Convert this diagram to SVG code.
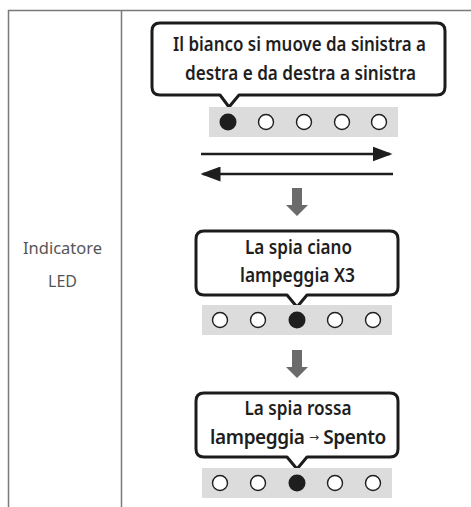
<svg xmlns="http://www.w3.org/2000/svg" width="471" height="507" viewBox="0 0 471 507">
<style>
.grid{stroke:#7a7a7a;stroke-width:1.5;fill:none}
.bub{fill:#fff;stroke:#1c1c1c;stroke-width:3;stroke-linejoin:round}
.bt{font-family:"Noto Sans","Liberation Sans",sans-serif;font-size:19px;font-weight:600;fill:#1e1e1e;text-anchor:middle}
.lbl{font-family:"Noto Sans","Liberation Sans",sans-serif;font-size:16px;font-weight:400;fill:#555555;text-anchor:middle}
.strip{fill:#dcdcdc}
.off{fill:#fff;stroke:#1e1e1e;stroke-width:1.4}
.on{fill:#1e1e1e}
.harr{stroke:#1e1e1e;stroke-width:2.5;fill:none}
.darr{fill:#6b6b6b}
</style>
<defs>
<marker id="ah" markerWidth="8" markerHeight="6" refX="7" refY="3" orient="auto" markerUnits="strokeWidth">
<path d="M0,0 L8,3 L0,6 Z" fill="#1e1e1e"/>
</marker>
</defs>
<g id="table">
<line class="grid" x1="8" y1="10.5" x2="471" y2="10.5"/>
<line class="grid" x1="8.5" y1="10" x2="8.5" y2="507"/>
<line class="grid" x1="121.5" y1="10" x2="121.5" y2="507"/>
</g>
<g id="label">
<text class="lbl" x="62.5" y="254" textLength="79" lengthAdjust="spacingAndGlyphs">Indicatore</text>
<text class="lbl" x="62.5" y="287">LED</text>
</g>
<g id="bubble1">
<path class="bub" d="M160,23 H437 Q445,23 445,31 V87 Q445,95 437,95 H239 L229,107 L220,95 H160 Q152,95 152,87 V31 Q152,23 160,23 Z"/>
<text class="bt" x="299.5" y="51" textLength="253" lengthAdjust="spacingAndGlyphs">Il bianco si muove da sinistra a</text>
<text class="bt" x="300.5" y="80" textLength="231" lengthAdjust="spacingAndGlyphs">destra e da destra a sinistra</text>
</g>
<g id="leds1">
<rect class="strip" x="209" y="107" width="189" height="30"/>
<circle class="on" cx="228" cy="122" r="8.5"/>
<circle class="off" cx="266" cy="122" r="7.5"/>
<circle class="off" cx="304" cy="122" r="7.5"/>
<circle class="off" cx="342" cy="122" r="7.5"/>
<circle class="off" cx="379" cy="122" r="7.5"/>
</g>
<g id="bubble2">
<path class="bub" d="M204,231 H390 Q398,231 398,239 V287 Q398,295 390,295 H307 L297,307 L287,295 H204 Q196,295 196,287 V239 Q196,231 204,231 Z"/>
<text class="bt" x="298.5" y="254" textLength="107" lengthAdjust="spacingAndGlyphs">La spia ciano</text>
<text class="bt" x="297.5" y="282" textLength="115" lengthAdjust="spacingAndGlyphs">lampeggia X3</text>
</g>
<g id="leds2">
<rect class="strip" x="202" y="305" width="190" height="30"/>
<circle class="off" cx="220" cy="320" r="7.5"/>
<circle class="off" cx="258" cy="320" r="7.5"/>
<circle class="on" cx="297" cy="320" r="8.5"/>
<circle class="off" cx="335" cy="320" r="7.5"/>
<circle class="off" cx="373" cy="320" r="7.5"/>
</g>
<g id="bubble3">
<path class="bub" d="M204,393 H390 Q398,393 398,401 V449 Q398,457 390,457 H307 L297,469 L287,457 H204 Q196,457 196,449 V401 Q196,393 204,393 Z"/>
<text class="bt" x="298" y="415" textLength="107" lengthAdjust="spacingAndGlyphs">La spia rossa</text>
<text class="bt" x="298" y="444" font-size="17" letter-spacing="-0.4">lampeggia <tspan font-family="DejaVu Sans, sans-serif" font-size="12" font-weight="400" fill="#333" baseline-shift="3">→</tspan> Spento</text>
</g>
<g id="leds3">
<rect class="strip" x="202" y="468" width="190" height="30"/>
<circle class="off" cx="220" cy="483" r="7.5"/>
<circle class="off" cx="258" cy="483" r="7.5"/>
<circle class="on" cx="297" cy="483" r="8.5"/>
<circle class="off" cx="335" cy="483" r="7.5"/>
<circle class="off" cx="373" cy="483" r="7.5"/>
</g>
<g id="connectors">
<line class="harr" x1="201" y1="154" x2="390" y2="154" marker-end="url(#ah)"/>
<line class="harr" x1="393" y1="174" x2="203" y2="174" marker-end="url(#ah)"/>
<path class="darr" d="M292,188 H302 V205 H308 L297,216 L286,205 H292 Z"/>
<path class="darr" d="M292,350 H302 V367 H308 L297,378 L286,367 H292 Z"/>
</g>
</svg>
